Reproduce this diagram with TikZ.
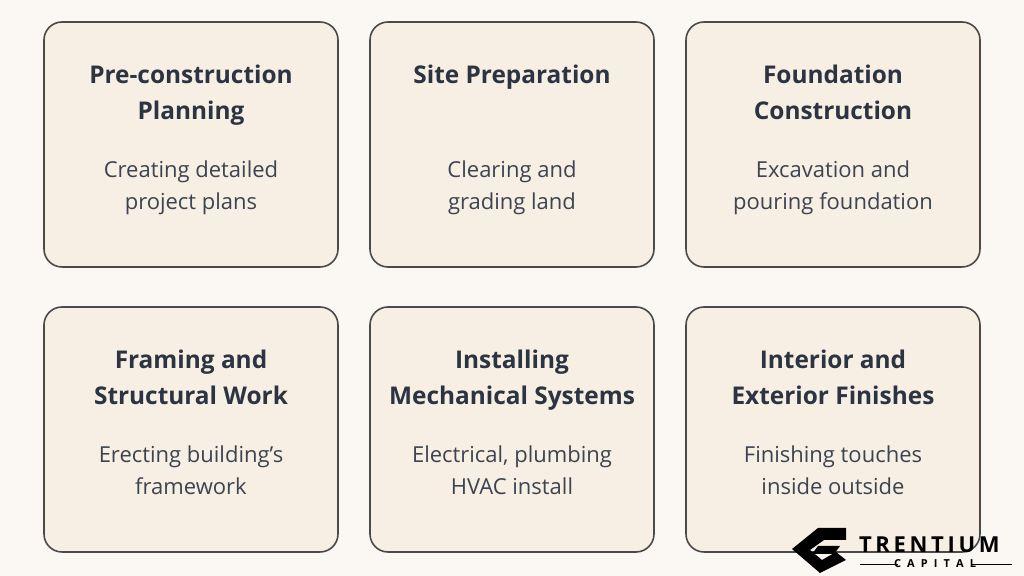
\documentclass[tikz,border=0pt]{standalone}
\usepackage{fontspec}
\setmainfont{Open Sans}
\definecolor{pagebg}{HTML}{FBF7F2}
\definecolor{cardbg}{HTML}{F8EFE4}
\definecolor{cardline}{HTML}{4A4A4A}
\definecolor{headtxt}{HTML}{2B3440}
\definecolor{bodytxt}{HTML}{3B4450}
\begin{document}
\begin{tikzpicture}
  [x=0.5pt, y=-0.5pt,
   card/.style={draw=cardline, line width=0.8pt, fill=cardbg, rounded corners=9pt},
   head/.style={align=center, text=headtxt, font=\fontsize{12.2}{18}\selectfont\bfseries},
   body/.style={align=center, text=bodytxt, font=\fontsize{11}{16}\selectfont}]
  % Page
  \fill[pagebg] (0,0) rectangle (1024,576);
  % Cards: x-left, x-right, y-top, title, text
  \foreach \xl/\xr/\yt/\name/\ttl/\txt in {
      44/338/22/pre/{Pre-construction\\Planning}/{Creating detailed\\project plans},
      370/654/22/site/{Site Preparation}/{Clearing and\\grading land},
      686/980/22/found/{Foundation\\Construction}/{Excavation and\\pouring foundation},
      44/338/307/frame/{Framing and\\Structural Work}/{Erecting building’s\\framework},
      370/654/307/mech/{Installing\\Mechanical Systems}/{Electrical, plumbing\\HVAC install},
      686/980/307/finish/{Interior and\\Exterior Finishes}/{Finishing touches\\inside outside}} {
    \draw[card] (\xl,\yt) rectangle (\xr,\yt+245);
    \node[head, anchor=north] (\name-head) at ({(\xl+\xr)/2},\yt+36) {\ttl};
    \node[body, anchor=north] (\name-text) at ({(\xl+\xr)/2},\yt+132) {\txt};
  }
  % Logo
  \fill[black] (792,549) -- (818,528) -- (846,528) -- (846,540) -- (824,540) -- (810,550)
    -- (822,560) -- (836,552) -- (846,560) -- (820,573) -- cycle;
  \fill[black] (818,546) -- (840,546) -- (834,554) -- (812,554) -- cycle;
  \node[font=\fontsize{11}{11}\selectfont\bfseries, text=black, anchor=west] (logo-name)
    at (852,545) {T\,R\,E\,N\,T\,I\,U\,M};
  \node[font=\fontsize{5.5}{5.5}\selectfont\bfseries, text=black] (logo-sub) at (935,564) {C\;\;A\;\;P\;\;I\;\;T\;\;A\;\;L};
  \draw[black, line width=0.4pt] (860,564) -- (898,564) (972,564) -- (1012,564);
\end{tikzpicture}
\end{document}
